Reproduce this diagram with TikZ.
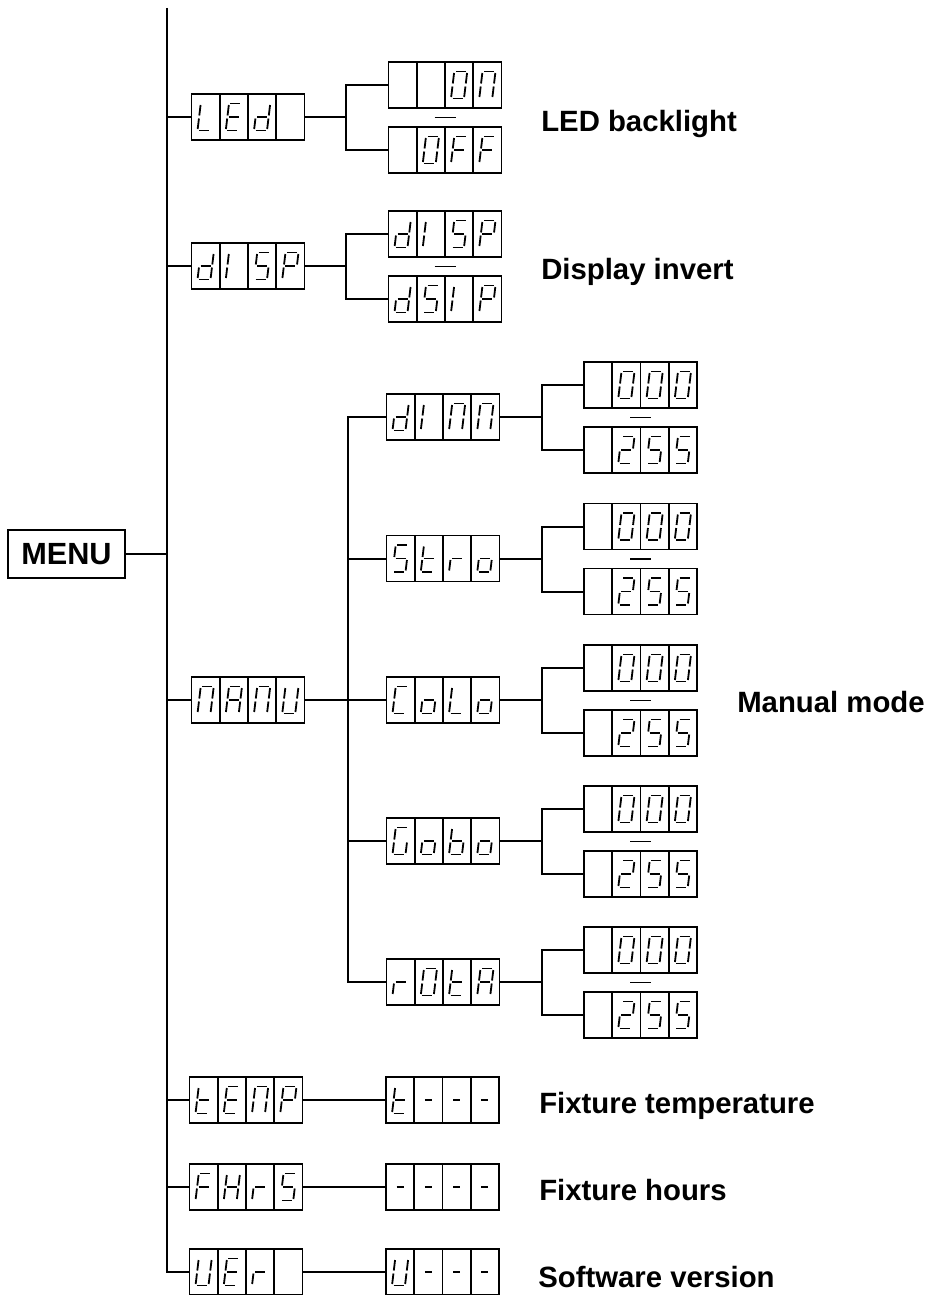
\documentclass[tikz,border=0pt]{standalone}
\usepackage{fontspec}
\setmainfont{Liberation Sans}
\usepackage{tikz}

\tikzset{
  wire/.style={line width=1.5pt},
  lcdbox/.style={draw, line width=1.4pt, minimum width=84.75pt, minimum height=34.5pt, inner sep=0pt},
  segline/.style={line width=1.35pt},
  valdash/.style={line width=1.4pt},
  caption/.style={anchor=base west, inner sep=0pt, font=\bfseries\fontsize{22}{26}\selectfont},
  menubox/.style={draw, line width=1.5pt, minimum width=87.75pt, minimum height=36pt, inner sep=0pt, font=\bfseries\fontsize{23}{27}\selectfont},
}

\makeatletter
% one segment if its letter is in the list
\newcommand{\lcdseg}[3]{\in@{#1}{#2}\ifin@#3\fi}
\newcommand{\lcdglyph}[1]{%
  \lcdseg{a}{#1}{\draw[segline] (-5,-13.5) -- (5,-13.5);}%
  \lcdseg{b}{#1}{\draw[segline] (6.5,-12) -- (6.5,-1.5);}%
  \lcdseg{c}{#1}{\draw[segline] (6.5,1.5) -- (6.5,12);}%
  \lcdseg{d}{#1}{\draw[segline] (-5,13.5) -- (5,13.5);}%
  \lcdseg{e}{#1}{\draw[segline] (-6.5,1.5) -- (-6.5,12);}%
  \lcdseg{f}{#1}{\draw[segline] (-6.5,-12) -- (-6.5,-1.5);}%
  \lcdseg{g}{#1}{\draw[segline] (-5,0) -- (5,0);}%
  \lcdseg{h}{#1}{\draw[line width=2.2pt] (-3.4,0) -- (3.4,0);}%
}
\newcommand{\lcddef}[2]{\@namedef{lcd@#1}{#2}}
\makeatother

% characters
\lcddef{x}{}
\lcddef{-}{h}
\lcddef{0}{abcdef}
\lcddef{2}{abged}
\lcddef{A}{abcefg}
\lcddef{b}{cdefg}
\lcddef{C}{adef}
\lcddef{d}{bcdeg}
\lcddef{E}{adefg}
\lcddef{F}{aefg}
\lcddef{G}{acdef}
\lcddef{H}{bcefg}
\lcddef{I}{ef}
\lcddef{L}{def}
\lcddef{N}{abcef}
\lcddef{o}{cdeg}
\lcddef{P}{abefg}
\lcddef{r}{eg}
\lcddef{S}{acdfg}
\lcddef{t}{defg}
\lcddef{U}{bcdef}

% display of four cells: name, x, y, characters
\newcommand{\lcd}[4]{%
  \node[lcdbox] (#1) at ({#2},{#3}) {};
  \foreach \k in {-1,0,1}
    \draw[line width=1.4pt] ({#2+\k*28.25},{#3-23}) -- ({#2+\k*28.25},{#3+23});
  \foreach \chr [count=\ii from 0] in {#4}{
    \begin{scope}[shift={({#2+(\ii-1.5)*28.25},{#3})}, xslant=-0.12]
      \edef\segs{\csname lcd@\chr\endcsname}
      \expandafter\lcdglyph\expandafter{\segs}
    \end{scope}}
}

% two choices: prefix, junction x, box x, row y, upper, lower
\newcommand{\lcdpair}[6]{%
  \coordinate (#1-j) at ({#2},{#4});
  \lcd{#1-hi}{#3}{#4-32}{#5}
  \lcd{#1-lo}{#3}{#4+33}{#6}
  \draw[wire] (#1-hi.west) -| (#1-j) |- (#1-lo.west);
  \draw[valdash] ({#3-10.5},{#4+0.5}) -- ({#3+10.5},{#4+0.5});
}

\begin{document}
\begin{tikzpicture}[x=0.75pt,y=0.75pt,yscale=-1,xscale=1]
\useasboundingbox (0,0) rectangle (927,1295);

% MENU
\node[menubox] (menu) at (66.5,554) {MENU};
\coordinate (trunk) at (167,8);

% first level
\lcd{led}{248}{117}{L,E,d,x}
\lcd{disp}{248}{266}{d,I,S,P}
\lcd{manu}{248}{700}{N,A,N,U}
\lcd{temp}{246}{1100}{t,E,N,P}
\lcd{fhrs}{246}{1187}{F,H,r,S}
\lcd{ver}{246}{1272}{U,E,r,x}

%Straight Lines
\draw[wire] (trunk) |- (ver.west);
\draw[wire] (menu.east) -- (menu.east -| trunk);
\foreach \n in {led,disp,manu,temp,fhrs}
  \draw[wire] (\n.west) -- (\n.west -| trunk);

% LED and display
\lcdpair{ledv}{346}{445}{117}{x,x,0,N}{x,0,F,F}
\draw[wire] (led.east) -- (ledv-j);
\lcdpair{dispv}{346}{445}{266}{d,I,S,P}{d,S,I,P}
\draw[wire] (disp.east) -- (dispv-j);

% manual mode
\coordinate (manj) at (348,700);
\lcd{dimm}{443}{417}{d,I,N,N}
\lcd{stro}{443}{558.5}{S,t,r,o}
\lcd{colo}{443}{700}{C,o,L,o}
\lcd{gobo}{443}{841}{G,o,b,o}
\lcd{rota}{443}{982}{r,0,t,A}
\draw[wire] (manu.east) -- (manj);
\draw[wire] (dimm.west) -| (manj) |- (rota.west);
\foreach \n in {stro,colo,gobo}
  \draw[wire] (\n.west) -- (\n.west -| manj);
\foreach \n/\y in {dimm/417,stro/558.5,colo/700,gobo/841,rota/982}{
  \lcdpair{\n v}{541.7}{640.5}{\y}{x,0,0,0}{x,2,S,S}
  \draw[wire] (\n.east) -- (\n v-j);
}

% read-outs
\lcd{tempv}{442.5}{1100}{t,-,-,-}
\lcd{fhrsv}{442.5}{1187}{-,-,-,-}
\lcd{verv}{442.5}{1272}{U,-,-,-}
\draw[wire] (temp.east) -- (tempv.west);
\draw[wire] (fhrs.east) -- (fhrsv.west);
\draw[wire] (ver.east) -- (verv.west);

% Text Node
\node[caption] (capled) at (541,131) {LED backlight};
\node[caption] (capdisp) at (541,279) {Display invert};
\node[caption] (capmanu) at (737,712) {Manual mode};
\node[caption] (captemp) at (539,1113) {Fixture temperature};
\node[caption] (caphrs) at (539,1200) {Fixture hours};
\node[caption] (capver) at (538,1287) {Software version};

\end{tikzpicture}
\end{document}
